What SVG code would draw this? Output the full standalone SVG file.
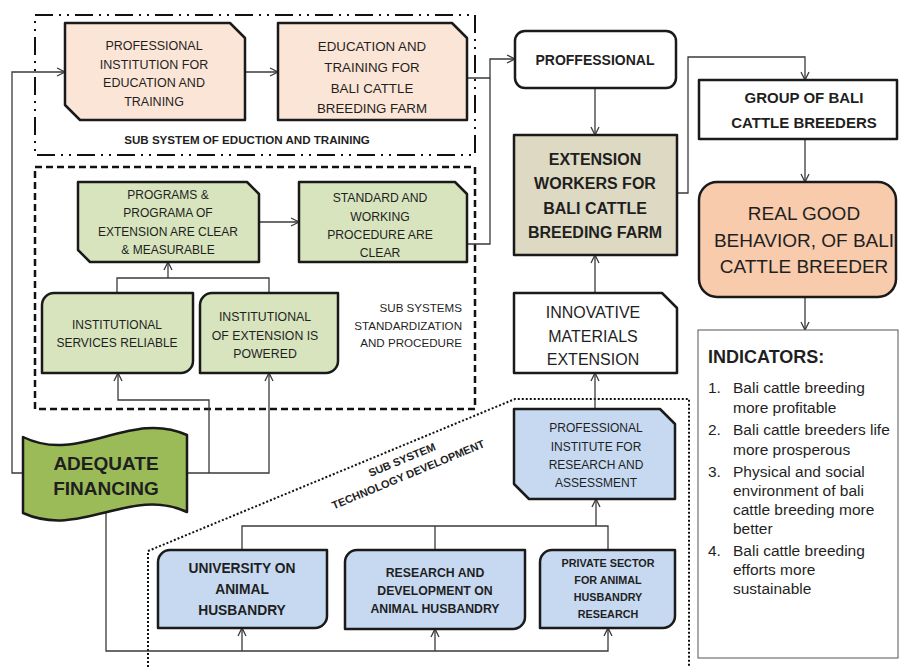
<svg xmlns="http://www.w3.org/2000/svg" width="899" height="667" viewBox="0 0 899 667">
<style>
text{font-family:"Liberation Sans",Arial,sans-serif;fill:#1f1f1f}
.c{text-anchor:middle}
.b{font-weight:bold}
.node{stroke:#1a1a1a;stroke-width:2.5;stroke-linejoin:round}
.peach{fill:#fbe5d6}
.green{fill:#d7e4bd}
.blue{fill:#c6d9f1}
.white{fill:#ffffff}
.conn{fill:none;stroke:#3a3a3a;stroke-width:1.3}
.arr{marker-end:url(#ah)}
.frame{fill:none;stroke:#111}
</style>
<defs>
<marker id="ah" markerUnits="userSpaceOnUse" markerWidth="12" markerHeight="12" refX="9" refY="5" orient="auto">
<path d="M1,1 L9,5 L1,9" fill="none" stroke="#3a3a3a" stroke-width="1.3"/>
</marker>
</defs>
<rect width="899" height="667" fill="#ffffff"/>

<g id="subsystems">
<rect class="frame" x="35" y="15" width="440" height="140" stroke-width="2" stroke-dasharray="18 6 2 6 2 6"/>
<rect class="frame" x="35" y="167" width="440" height="242" stroke-width="2.5" stroke-dasharray="7 4"/>
<path class="frame" d="M148,667 V551 L515,399 H689 V667" stroke-width="2" stroke-dasharray="2 2"/>
<text class="c b" x="247" y="144" font-size="11.6">SUB SYSTEM OF EDUCTION AND TRAINING</text>
<text x="462" y="312" font-size="11.6" text-anchor="end">SUB SYSTEMS</text>
<text x="462" y="330" font-size="11.6" text-anchor="end">STANDARDIZATION</text>
<text x="462" y="347" font-size="11.6" text-anchor="end">AND PROCEDURE</text>
<g transform="translate(405,467) rotate(-22.5)">
<text class="c b" x="0" y="-4" font-size="11">SUB SYSTEM</text>
<text class="c b" x="0" y="12" font-size="11">TECHNOLOGY DEVELOPMENT</text>
</g>
</g>

<g id="connectors">
<path class="conn arr" d="M23,473 H12 V72 H65"/>
<path class="conn arr" d="M245,72 H278"/>
<path class="conn arr" d="M467,78 H490 V59 H515"/>
<path class="conn" d="M467,244 H490 V78"/>
<path class="conn arr" d="M595,88 V135"/>
<path class="conn arr" d="M677,193 H688 V57 H805 V80"/>
<path class="conn arr" d="M805,139 V182"/>
<path class="conn arr" d="M805,297 V330"/>
<path class="conn arr" d="M595,293 V255"/>
<path class="conn arr" d="M595,409 V373"/>
<path class="conn arr" d="M259,222 H299"/>
<path class="conn" d="M117,293 V278 H269 V293"/>
<path class="conn arr" d="M168,278 V262"/>
<path class="conn arr" d="M187,473 H269 V373"/>
<path class="conn arr" d="M209,473 V400 H118 V373"/>
<path class="conn arr" d="M106,512 V651 H608 V628"/>
<path class="conn arr" d="M242,651 V628"/>
<path class="conn arr" d="M435,651 V629"/>
<path class="conn" d="M242,550 V526 H608 V550"/>
<path class="conn" d="M435,550 V526"/>
<path class="conn arr" d="M596,526 V499"/>
</g>

<g id="prof-institution-education">
<polygon class="node peach" points="65,23 230,23 245,38 245,120 80,120 65,105"/>
<text class="c" x="154" y="50" font-size="12.5">PROFESSIONAL</text>
<text class="c" x="154" y="68.5" font-size="12.5">INSTITUTION FOR</text>
<text class="c" x="154" y="87" font-size="12.5">EDUCATION AND</text>
<text class="c" x="154" y="105.5" font-size="12.5">TRAINING</text>
</g>

<g id="education-training">
<polygon class="node peach" points="278,23 452,23 467,38 467,120 278,120"/>
<text class="c" x="372" y="51" font-size="13.3">EDUCATION AND</text>
<text class="c" x="372" y="72" font-size="13.3">TRAINING FOR</text>
<text class="c" x="372" y="93" font-size="13.3">BALI CATTLE</text>
<text class="c" x="372" y="113" font-size="13.3">BREEDING FARM</text>
</g>

<g id="proffessional">
<rect class="node white" x="515" y="31" width="161" height="57" rx="10"/>
<text class="c b" x="595" y="65" font-size="14">PROFFESSIONAL</text>
</g>

<g id="extension-workers">
<rect class="node" x="514" y="135" width="163" height="120" fill="#ddd9c3" stroke-width="3"/>
<text class="c b" x="595" y="165" font-size="16">EXTENSION</text>
<text class="c b" x="595" y="189" font-size="16">WORKERS FOR</text>
<text class="c b" x="595" y="214" font-size="16">BALI CATTLE</text>
<text class="c b" x="595" y="238" font-size="16">BREEDING FARM</text>
</g>

<g id="group-breeders">
<rect class="node white" x="699" y="80" width="198" height="59" stroke-width="3"/>
<text class="c b" x="804" y="103" font-size="15">GROUP OF BALI</text>
<text class="c b" x="804" y="128" font-size="15">CATTLE BREEDERS</text>
</g>

<g id="real-good-behavior">
<rect class="node" x="699" y="182" width="197" height="115" rx="18" fill="#f8cbad" stroke-width="3"/>
<text class="c" x="804" y="220" font-size="19">REAL GOOD</text>
<text class="c" x="804" y="247" font-size="19">BEHAVIOR, OF BALI</text>
<text class="c" x="804" y="273" font-size="19">CATTLE BREEDER</text>
</g>

<g id="indicators">
<rect x="698" y="330" width="200" height="328" fill="#ffffff" stroke="#555" stroke-width="1"/>
<text class="b" x="708" y="363" font-size="18">INDICATORS:</text>
<g font-size="15.5">
<text x="708" y="393">1.</text><text x="733" y="393">Bali cattle breeding</text>
<text x="733" y="413">more profitable</text>
<text x="708" y="435">2.</text><text x="733" y="435">Bali cattle breeders life</text>
<text x="733" y="455">more prosperous</text>
<text x="708" y="477">3.</text><text x="733" y="477">Physical and social</text>
<text x="733" y="496">environment of bali</text>
<text x="733" y="515">cattle breeding more</text>
<text x="733" y="534">better</text>
<text x="708" y="556">4.</text><text x="733" y="556">Bali cattle breeding</text>
<text x="733" y="575">efforts more</text>
<text x="733" y="594">sustainable</text>
</g>
</g>

<g id="programs">
<polygon class="node green" points="78,182 247,182 259,194 259,262 90,262 78,250"/>
<text class="c" x="168" y="199" font-size="12">PROGRAMS &amp;</text>
<text class="c" x="168" y="217.3" font-size="12">PROGRAMA OF</text>
<text class="c" x="168" y="235.6" font-size="12">EXTENSION ARE CLEAR</text>
<text class="c" x="168" y="254" font-size="12">&amp; MEASURABLE</text>
</g>

<g id="standard-procedure">
<polygon class="node green" points="299,182 455,182 467,194 467,262 299,262"/>
<text class="c" x="380" y="202" font-size="12.2">STANDARD AND</text>
<text class="c" x="380" y="220.5" font-size="12.2">WORKING</text>
<text class="c" x="380" y="239" font-size="12.2">PROCEDURE ARE</text>
<text class="c" x="380" y="257" font-size="12.2">CLEAR</text>
</g>

<g id="institutional-services">
<path class="node green" d="M54,293 H193 V361 A12,12 0 0 1 181,373 H42 V305 A12,12 0 0 1 54,293 Z"/>
<text class="c" x="117" y="329" font-size="12">INSTITUTIONAL</text>
<text class="c" x="117" y="347" font-size="12">SERVICES RELIABLE</text>
</g>

<g id="institutional-extension">
<path class="node green" d="M212,293 H338 V361 A12,12 0 0 1 326,373 H200 V305 A12,12 0 0 1 212,293 Z"/>
<text class="c" x="265" y="321" font-size="12.3">INSTITUTIONAL</text>
<text class="c" x="265" y="340" font-size="12.3">OF EXTENSION IS</text>
<text class="c" x="265" y="358" font-size="12.3">POWERED</text>
</g>

<g id="adequate-financing">
<path class="node" fill="#9bbb59" d="M23,437 C80,465 130,409 187,435 L187,512 C130,486 80,539 23,513 Z"/>
<text class="c b" x="106" y="470" font-size="19">ADEQUATE</text>
<text class="c b" x="106" y="495" font-size="19">FINANCING</text>
</g>

<g id="innovative-materials">
<polygon class="node white" points="514,293 662,293 677,308 677,373 514,373"/>
<text class="c" x="593" y="318" font-size="16">INNOVATIVE</text>
<text class="c" x="593" y="342" font-size="16">MATERIALS</text>
<text class="c" x="593" y="365" font-size="16">EXTENSION</text>
</g>

<g id="prof-institute-research">
<polygon class="node blue" points="514,409 660,409 675,424 675,499 529,499 514,484"/>
<text class="c" x="596" y="432" font-size="12">PROFESSIONAL</text>
<text class="c" x="596" y="450.5" font-size="12">INSTITUTE FOR</text>
<text class="c" x="596" y="469" font-size="12">RESEARCH AND</text>
<text class="c" x="596" y="487" font-size="12">ASSESSMENT</text>
</g>

<g id="university">
<path class="node blue" d="M170,550 H327 V616 A12,12 0 0 1 315,628 H158 V562 A12,12 0 0 1 170,550 Z"/>
<text class="c b" x="242" y="573" font-size="13.8">UNIVERSITY ON</text>
<text class="c b" x="242" y="594" font-size="13.8">ANIMAL</text>
<text class="c b" x="242" y="615" font-size="13.8">HUSBANDRY</text>
</g>

<g id="research-development">
<path class="node blue" d="M357,550 H525 V617 A12,12 0 0 1 513,629 H345 V562 A12,12 0 0 1 357,550 Z"/>
<text class="c b" x="435" y="577" font-size="12.3">RESEARCH AND</text>
<text class="c b" x="435" y="595" font-size="12.3">DEVELOPMENT ON</text>
<text class="c b" x="435" y="613" font-size="12.3">ANIMAL HUSBANDRY</text>
</g>

<g id="private-sector">
<path class="node blue" d="M552,550 H675 V616 A12,12 0 0 1 663,628 H540 V562 A12,12 0 0 1 552,550 Z"/>
<text class="c b" x="608" y="567" font-size="10.8">PRIVATE SECTOR</text>
<text class="c b" x="608" y="584" font-size="10.8">FOR ANIMAL</text>
<text class="c b" x="608" y="601" font-size="10.8">HUSBANDRY</text>
<text class="c b" x="608" y="618" font-size="10.8">RESEARCH</text>
</g>
</svg>
